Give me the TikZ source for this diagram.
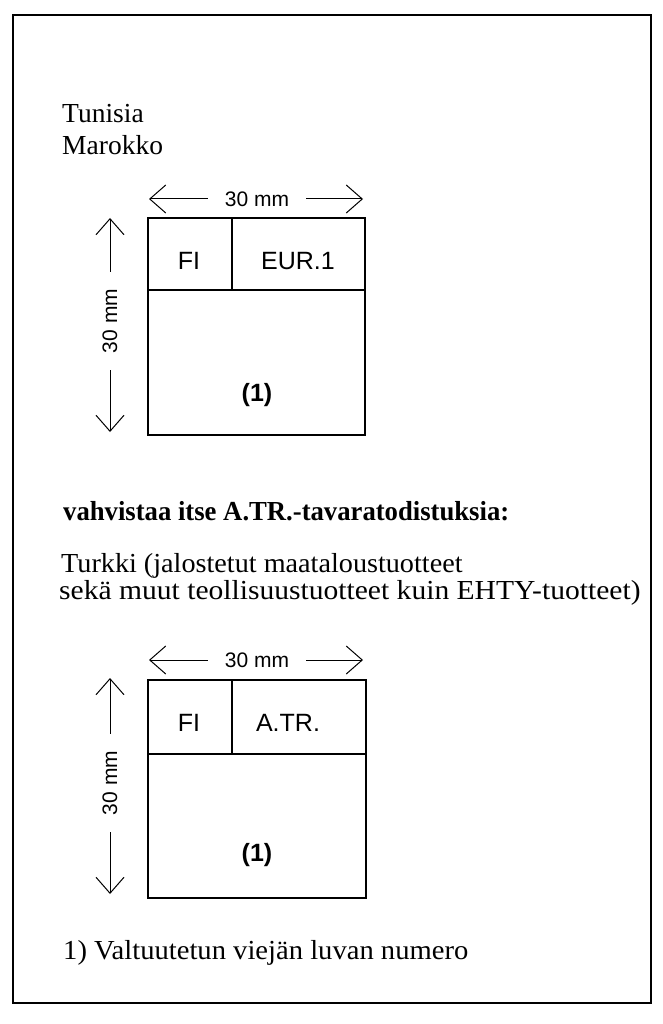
\documentclass[tikz,border=0pt]{standalone}
\usepackage{fontspec}
\setmainfont{Liberation Serif}
\newfontfamily\stampfont{Liberation Sans}
\usetikzlibrary{arrows.meta}
\tikzset{
  frame/.style={line width=2pt},
  stampline/.style={line width=1.2pt},
  dimarrow/.style={line width=1pt,-{Straight Barb[length=16pt,width=28pt,line width=1pt]}},
  serif/.style={font=\fontsize{27.5}{30}\selectfont,inner sep=0pt,anchor=base west},
  serifbold/.style={font=\fontsize{27.5}{30}\selectfont\bfseries,inner sep=0pt,anchor=base west},
  dimlabel/.style={font=\stampfont\fontsize{21}{24}\selectfont,inner ysep=0pt,inner xsep=17pt},
  celltext/.style={font=\stampfont\fontsize{25}{28}\selectfont,inner sep=0pt},
  celltextbold/.style={font=\stampfont\fontsize{25}{28}\selectfont\bfseries,inner sep=0pt}
}
\begin{document}
\begin{tikzpicture}[x=1pt,y=-1pt]
\useasboundingbox (0,0) rectangle (663,1024);
\fill[white] (0,0) rectangle (663,1024);
% outer frame
\draw[frame] (13,15) rectangle (651,1003);

% texts
\node[serif] (tun) at (62,123) {Tunisia};
\node[serif] (mar) at (62,155) {Marokko};
\node[serifbold,xscale=0.97] (vah) at (63,520) {vahvistaa itse A.TR.-tavaratodistuksia:};
\node[serif,xscale=1.025] (tur) at (61,572) {Turkki (jalostetut maataloustuotteet};
\node[serif,xscale=1.075] (sek) at (59,599) {sekä muut teollisuustuotteet kuin EHTY-tuotteet)};
\node[serif,xscale=1.04] (foot) at (63,959) {1) Valtuutetun viejän luvan numero};

% ---------- stamp 1 ----------
\draw[stampline] (148,218) rectangle (365,435);
\draw[stampline] (148,290) -- (365,290);
\draw[stampline] (232,218) -- (232,290);
\node[celltext] (fi1) at (189,261) {FI};
\node[celltext] (eur) at (298,261) {EUR.1};
\node[celltextbold] (one1) at (257,395) {(1)};
% dimension arrows
\coordinate (h1l) at (149,199);
\coordinate (h1r) at (363,199);
\node[dimlabel] (h1) at (257,199) {30 mm};
\draw[dimarrow] (h1.west) -- (h1l);
\draw[dimarrow] (h1.east) -- (h1r);
\coordinate (v1t) at (110,218);
\coordinate (v1b) at (110,432);
\node[dimlabel,rotate=90] (v1) at (110,321) {30 mm};
\draw[dimarrow] (v1.east) -- (v1t);
\draw[dimarrow] (v1.west) -- (v1b);

% ---------- stamp 2 ----------
\draw[stampline] (148,680) rectangle (366,898);
\draw[stampline] (148,754) -- (366,754);
\draw[stampline] (232,680) -- (232,754);
\node[celltext] (fi2) at (189,723) {FI};
\node[celltext] (atr) at (288,723) {A.TR.};
\node[celltextbold] (one2) at (257,855) {(1)};
\coordinate (h2l) at (149,660);
\coordinate (h2r) at (363,660);
\node[dimlabel] (h2) at (257,660) {30 mm};
\draw[dimarrow] (h2.west) -- (h2l);
\draw[dimarrow] (h2.east) -- (h2r);
\coordinate (v2t) at (110,678);
\coordinate (v2b) at (110,894);
\node[dimlabel,rotate=90] (v2) at (110,783) {30 mm};
\draw[dimarrow] (v2.east) -- (v2t);
\draw[dimarrow] (v2.west) -- (v2b);
\end{tikzpicture}
\end{document}
